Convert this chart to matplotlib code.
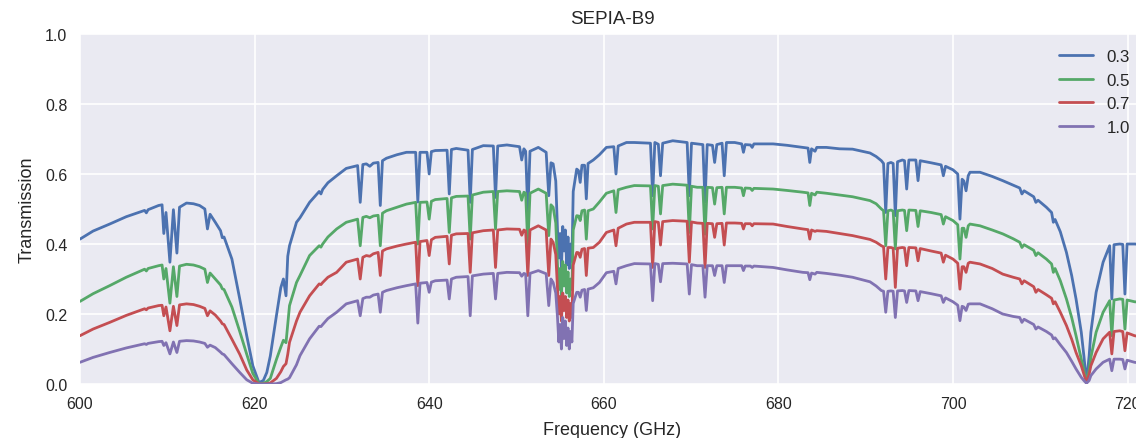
import matplotlib
matplotlib.use("Agg")
import matplotlib.pyplot as plt

# frequency grid (GHz)
freq = [
    600.0, 601.5, 603.4, 605.3, 607.4, 607.6, 607.8, 609.0, 609.4, 609.6,
    609.85, 610.3, 610.7, 611.1, 611.4, 612.2, 613.0, 613.7, 614.3, 614.6,
    614.9, 615.5, 616.1, 616.3, 616.5, 617.4, 618.3, 619.1, 619.8, 620.5,
    621.0, 621.4, 621.8, 622.5, 623.0, 623.3, 623.6, 623.8, 624.0, 624.8,
    625.2, 626.3, 627.4, 627.6, 627.8, 628.4, 629.4, 630.5, 631.8, 632.1,
    632.4, 632.8, 633.2, 633.6, 634.15, 634.4, 634.65, 635.1, 636.3, 637.4,
    638.45, 638.7, 638.95, 639.75, 640.0, 640.25, 640.7, 642.05, 642.3, 642.55,
    643.1, 644.45, 644.7, 644.95, 646.2, 647.35, 647.6, 647.85, 648.9, 650.35,
    650.6, 650.85, 651.05, 651.3, 651.55, 652.5, 653.4, 653.7, 653.95, 654.2,
    654.5, 654.7, 654.85, 655.0, 655.15, 655.3, 655.45, 655.6, 655.75, 655.9,
    656.05, 656.2, 656.35, 656.5, 656.9, 657.1, 657.3, 657.5, 657.8, 658.0,
    658.2, 658.8, 659.5, 660.3, 661.15, 661.4, 661.65, 662.6, 663.5, 665.35,
    665.6, 665.85, 666.25, 666.5, 666.75, 667.9, 669.55, 669.8, 670.05, 670.7,
    671.35, 671.6, 671.85, 672.45, 672.7, 672.95, 673.55, 673.8, 674.05, 675.0,
    675.8, 676.0, 676.2, 676.8, 677.0, 677.2, 679.4, 681.0, 682.8, 683.4,
    683.6, 683.8, 684.2, 684.4, 685.5, 687.0, 688.5, 690.5, 691.2, 691.8,
    692.05, 692.3, 692.55, 692.9, 693.15, 693.4, 693.65, 694.2, 694.45, 694.7,
    694.95, 695.75, 696.0, 696.25, 697.5, 698.65, 698.9, 699.15, 700.0, 700.55,
    700.8, 701.05, 701.25, 701.5, 701.75, 701.95, 703.1, 704.5, 705.7, 706.9,
    707.65, 707.9, 708.15, 709.25, 709.5, 709.75, 710.7, 711.3, 711.5, 711.7,
    712.3, 713.0, 713.6, 714.1, 714.7, 715.0, 715.3, 715.6, 715.8, 716.4,
    717.2, 717.95, 718.2, 718.45, 719.1, 719.45, 719.7, 719.95, 720.8, 722.0,
]

# transmission for PWV = 0.3 mm
trans_03 = [
    .414, .437, .457, .478, .496, .489, .498, .510, .512, .430,
    .490, .348, .498, .374, .505, .517, .515, .510, .500, .443,
    .485, .462, .438, .418, .420, .357, .243, .138, .052, .004,
    .010, .033, .080, .195, .275, .300, .252, .365, .395, .462,
    .475, .519, .550, .543, .556, .575, .595, .616, .624, .519,
    .627, .629, .622, .631, .633, .510, .638, .645, .655, .662,
    .662, .520, .662, .662, .600, .664, .667, .668, .543, .670,
    .673, .668, .519, .670, .681, .680, .533, .680, .683, .678,
    .640, .672, .665, .490, .665, .676, .662, .538, .632, .629,
    .580, .440, .360, .430, .330, .450, .380, .440, .340, .420,
    .330, .400, .350, .550, .614, .610, .576, .625, .625, .529,
    .630, .640, .655, .676, .678, .600, .680, .690, .690, .688,
    .538, .690, .685, .595, .688, .695, .690, .538, .688, .686,
    .684, .520, .684, .682, .633, .684, .688, .595, .690, .690,
    .686, .662, .684, .683, .676, .686, .686, .682, .676, .674,
    .633, .672, .665, .676, .676, .672, .671, .660, .650, .638,
    .630, .490, .630, .633, .630, .481, .635, .640, .638, .557,
    .640, .640, .581, .638, .632, .626, .595, .622, .612, .600,
    .471, .585, .580, .552, .595, .605, .605, .593, .581, .568,
    .560, .543, .552, .535, .519, .525, .505, .490, .462, .470,
    .435, .376, .310, .243, .148, .080, .005, .080, .148, .262,
    .348, .395, .243, .398, .400, .399, .257, .400, .400, .398,
]

# transmission for PWV = 0.5 mm
trans_05 = [
    .236, .258, .281, .305, .328, .323, .330, .338, .340, .300,
    .330, .231, .335, .250, .337, .342, .340, .335, .328, .290,
    .317, .300, .283, .272, .270, .220, .150, .085, .030, .001,
    .002, .007, .016, .070, .105, .125, .118, .170, .224, .290,
    .310, .367, .395, .391, .400, .420, .443, .462, .471, .395,
    .476, .479, .475, .480, .482, .395, .488, .495, .505, .514,
    .519, .400, .519, .520, .471, .522, .527, .530, .433, .532,
    .536, .537, .414, .540, .548, .550, .443, .550, .552, .550,
    .525, .548, .545, .395, .545, .557, .545, .424, .512, .505,
    .460, .340, .270, .330, .250, .350, .280, .340, .260, .320,
    .250, .300, .270, .440, .481, .480, .467, .495, .497, .414,
    .495, .500, .520, .545, .552, .490, .555, .562, .567, .566,
    .443, .567, .565, .486, .567, .571, .568, .433, .565, .562,
    .562, .428, .562, .561, .514, .561, .562, .486, .562, .562,
    .560, .538, .560, .559, .553, .559, .557, .553, .548, .546,
    .510, .545, .540, .548, .545, .540, .535, .524, .515, .500,
    .495, .395, .495, .497, .494, .386, .495, .497, .496, .438,
    .497, .496, .450, .495, .490, .484, .457, .478, .467, .455,
    .357, .445, .445, .419, .452, .457, .452, .440, .429, .415,
    .405, .390, .398, .382, .367, .375, .357, .343, .319, .330,
    .295, .243, .190, .138, .071, .040, .005, .040, .076, .148,
    .205, .238, .138, .240, .243, .242, .157, .240, .235, .232,
]

# transmission for PWV = 0.7 mm
trans_07 = [
    .138, .157, .176, .196, .215, .212, .217, .224, .225, .195,
    .220, .152, .222, .167, .226, .229, .227, .222, .216, .195,
    .209, .197, .180, .172, .170, .128, .085, .040, .012, .000,
    .000, .001, .003, .016, .035, .050, .058, .085, .119, .180,
    .205, .252, .286, .284, .290, .305, .319, .348, .357, .300,
    .362, .367, .365, .372, .376, .310, .380, .386, .394, .400,
    .405, .281, .407, .410, .367, .412, .419, .422, .343, .425,
    .429, .430, .319, .432, .438, .440, .333, .440, .443, .442,
    .425, .440, .437, .310, .440, .452, .440, .310, .414, .405,
    .370, .270, .200, .250, .180, .260, .210, .250, .190, .240,
    .180, .230, .190, .340, .376, .375, .362, .385, .387, .310,
    .388, .390, .405, .433, .440, .395, .445, .457, .462, .462,
    .333, .464, .462, .397, .464, .467, .465, .348, .463, .460,
    .459, .333, .459, .458, .419, .458, .459, .397, .460, .460,
    .459, .443, .458, .458, .452, .458, .457, .450, .443, .441,
    .414, .440, .436, .438, .436, .430, .424, .413, .405, .395,
    .392, .300, .390, .390, .388, .276, .388, .390, .389, .338,
    .390, .389, .352, .387, .380, .374, .348, .368, .357, .345,
    .271, .335, .335, .319, .345, .348, .343, .330, .314, .305,
    .300, .286, .295, .278, .262, .270, .255, .245, .229, .235,
    .205, .167, .128, .090, .052, .028, .004, .028, .052, .090,
    .129, .148, .086, .150, .152, .150, .095, .146, .138, .132,
]

# transmission for PWV = 1.0 mm
trans_10 = [
    .062, .076, .090, .103, .115, .113, .116, .121, .122, .110,
    .118, .086, .120, .090, .122, .124, .123, .120, .116, .105,
    .111, .104, .091, .086, .084, .058, .033, .012, .002, .000,
    .000, .000, .000, .001, .004, .008, .012, .014, .018, .055,
    .081, .129, .165, .164, .170, .187, .205, .229, .238, .195,
    .244, .248, .248, .254, .257, .205, .262, .267, .275, .281,
    .286, .174, .288, .290, .262, .291, .295, .297, .243, .300,
    .305, .307, .195, .309, .314, .316, .243, .316, .319, .318,
    .308, .316, .314, .195, .316, .324, .315, .224, .300, .290,
    .260, .190, .120, .170, .100, .190, .130, .180, .110, .160,
    .100, .150, .120, .230, .262, .262, .248, .268, .270, .210,
    .271, .275, .290, .318, .322, .286, .330, .338, .344, .343,
    .238, .344, .342, .292, .344, .345, .343, .257, .341, .338,
    .338, .248, .338, .338, .310, .338, .338, .290, .338, .338,
    .338, .324, .337, .337, .333, .337, .333, .326, .319, .318,
    .298, .317, .314, .319, .316, .311, .305, .292, .280, .267,
    .265, .205, .265, .266, .265, .190, .266, .267, .266, .233,
    .267, .266, .238, .264, .258, .252, .233, .246, .235, .225,
    .181, .222, .220, .210, .228, .229, .229, .215, .200, .193,
    .190, .176, .185, .170, .157, .163, .150, .140, .129, .132,
    .112, .090, .065, .043, .019, .010, .002, .010, .024, .043,
    .062, .071, .038, .071, .071, .070, .043, .068, .062, .058,
]

pwv_labels = ["0.3", "0.5", "0.7", "1.0"]
series = [trans_03, trans_05, trans_07, trans_10]
colors = ["#4C72B0", "#55A868", "#C44E52", "#8172B2"]

plt.rcParams["font.family"] = ["Liberation Sans", "DejaVu Sans"]
text_color = "#262626"

fig = plt.figure(figsize=(11.36, 4.39), dpi=100)
# axes run a little past the right edge, like the cropped original
ax = fig.add_axes([80 / 1136, 54 / 439, 1065 / 1136, 350 / 439])
ax.set_facecolor("#EAEAF2")
for s in ax.spines.values():
    s.set_visible(False)
ax.grid(True, color="white", linewidth=1.2)
ax.set_axisbelow(True)

for vals, lab, col in zip(series, pwv_labels, colors):
    ax.plot(freq, vals, color=col, linewidth=2.0, label=lab,
            solid_joinstyle="round", solid_capstyle="round")

ax.set_xlim(600, 722)
ax.set_ylim(0, 1)
ax.set_xticks([600, 620, 640, 660, 680, 700, 720])
ax.set_yticks([0.0, 0.2, 0.4, 0.6, 0.8, 1.0])
ax.tick_params(length=0, pad=9, labelsize=11.5, labelcolor=text_color)

ax.set_title("SEPIA-B9", fontsize=13.5, color=text_color, pad=8)
ax.set_xlabel("Frequency (GHz)", fontsize=13, color=text_color, labelpad=7)
ax.set_ylabel("Transmission", fontsize=13, color=text_color, labelpad=7)

leg = ax.legend(loc="upper right", frameon=False, fontsize=12.2)
for t in leg.get_texts():
    t.set_color(text_color)

fig.savefig("out.png", dpi=100)
